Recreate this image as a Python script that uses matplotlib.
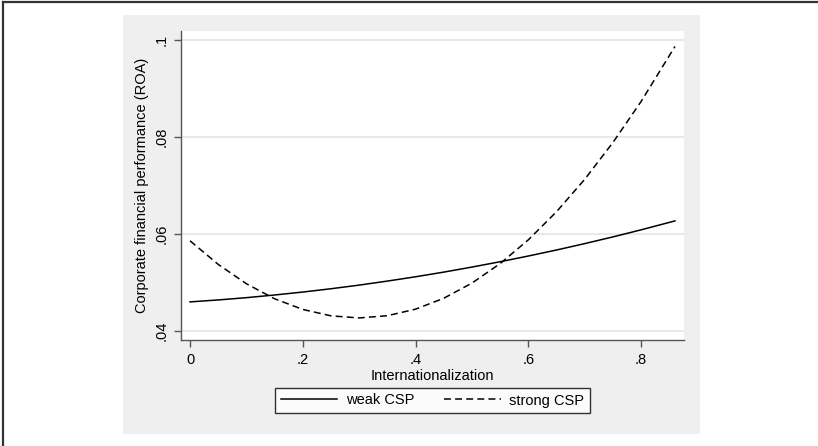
import numpy as np
import matplotlib
matplotlib.use("Agg")
import matplotlib.pyplot as plt
from matplotlib.lines import Line2D
from matplotlib.patches import Rectangle

plt.rcParams["font.family"] = ["Liberation Sans", "DejaVu Sans"]
plt.rcParams["lines.scale_dashes"] = False

# values
internationalization = [0, 0.05, 0.1, 0.15, 0.2, 0.25, 0.3, 0.35, 0.4, 0.45,
                        0.5, 0.55, 0.6, 0.65, 0.7, 0.75, 0.8, 0.86]
weak_csp = [0.04600, 0.04640, 0.04687, 0.04742, 0.04803, 0.04871, 0.04946,
            0.05029, 0.05118, 0.05214, 0.05318, 0.05428, 0.05546, 0.05670,
            0.05802, 0.05940, 0.06086, 0.06270]
strong_csp = [0.05860, 0.05373, 0.04974, 0.04664, 0.04444, 0.04312, 0.04269,
              0.04315, 0.04450, 0.04675, 0.04988, 0.05390, 0.05880, 0.06460,
              0.07129, 0.07887, 0.08734, 0.09867]

x_ticks = [0, 0.2, 0.4, 0.6, 0.8]
x_tick_labels = ["0", ".2", ".4", ".6", ".8"]
y_ticks = [0.04, 0.06, 0.08, 0.1]
y_tick_labels = [".04", ".06", ".08", ".1"]

W, H = 818, 446
fig = plt.figure(figsize=(W / 100, H / 100), dpi=100)

# gray graph region
fig.patches.append(Rectangle((123 / W, 1 - 434 / H), (700 - 123) / W, (434 - 15) / H,
                             transform=fig.transFigure, facecolor="#efefef",
                             edgecolor="none", zorder=-5))
# page border (top and left only)
fig.lines.append(Line2D([3 / W, 1], [1 - 1.5 / H, 1 - 1.5 / H], transform=fig.transFigure,
                        color="#333333", lw=1.6, zorder=-4))
fig.lines.append(Line2D([3 / W, 3 / W], [0, 1 - 1.5 / H], transform=fig.transFigure,
                        color="#333333", lw=1.6, zorder=-4))

ax = fig.add_axes([181 / W, 1 - 340 / H, (684 - 181) / W, (340 - 31) / H])
ax.set_facecolor("white")

ax.plot(internationalization, weak_csp, color="black", lw=1.1, label="weak CSP")
ax.plot(internationalization, strong_csp, color="black", lw=1.1,
        linestyle=(0, (5, 3)), label="strong CSP")

ax.set_xlim(-0.016, 0.876)
ax.set_ylim(0.03814, 0.10186)

ax.set_xticks(x_ticks)
ax.set_xticklabels(x_tick_labels)
ax.set_yticks(y_ticks)
ax.set_yticklabels(y_tick_labels, rotation=90, va="center")

ax.grid(axis="y", color="#e8e8e8", lw=1.5)
ax.set_axisbelow(True)

for side in ["top", "right"]:
    ax.spines[side].set_visible(False)
for side in ["left", "bottom"]:
    ax.spines[side].set_color("#555555")
    ax.spines[side].set_linewidth(1.0)

ax.tick_params(direction="out", length=5, width=1, color="#555555",
               labelsize=10.5, pad=4)

ax.set_xlabel("Internationalization", fontsize=10.5, labelpad=2)
ax.set_ylabel("Corporate financial performance (ROA)", fontsize=10.5, labelpad=4)

leg = fig.legend(loc="center", bbox_to_anchor=(432.5 / W, 1 - 400.5 / H), ncol=2,
                 frameon=True, fancybox=False, edgecolor="black", fontsize=10.5,
                 handlelength=3.9, handletextpad=0.6, columnspacing=2.0,
                 borderpad=0.35)
leg.get_frame().set_linewidth(1.0)
leg.get_frame().set_facecolor("white")

fig.savefig("out.png", dpi=100)
